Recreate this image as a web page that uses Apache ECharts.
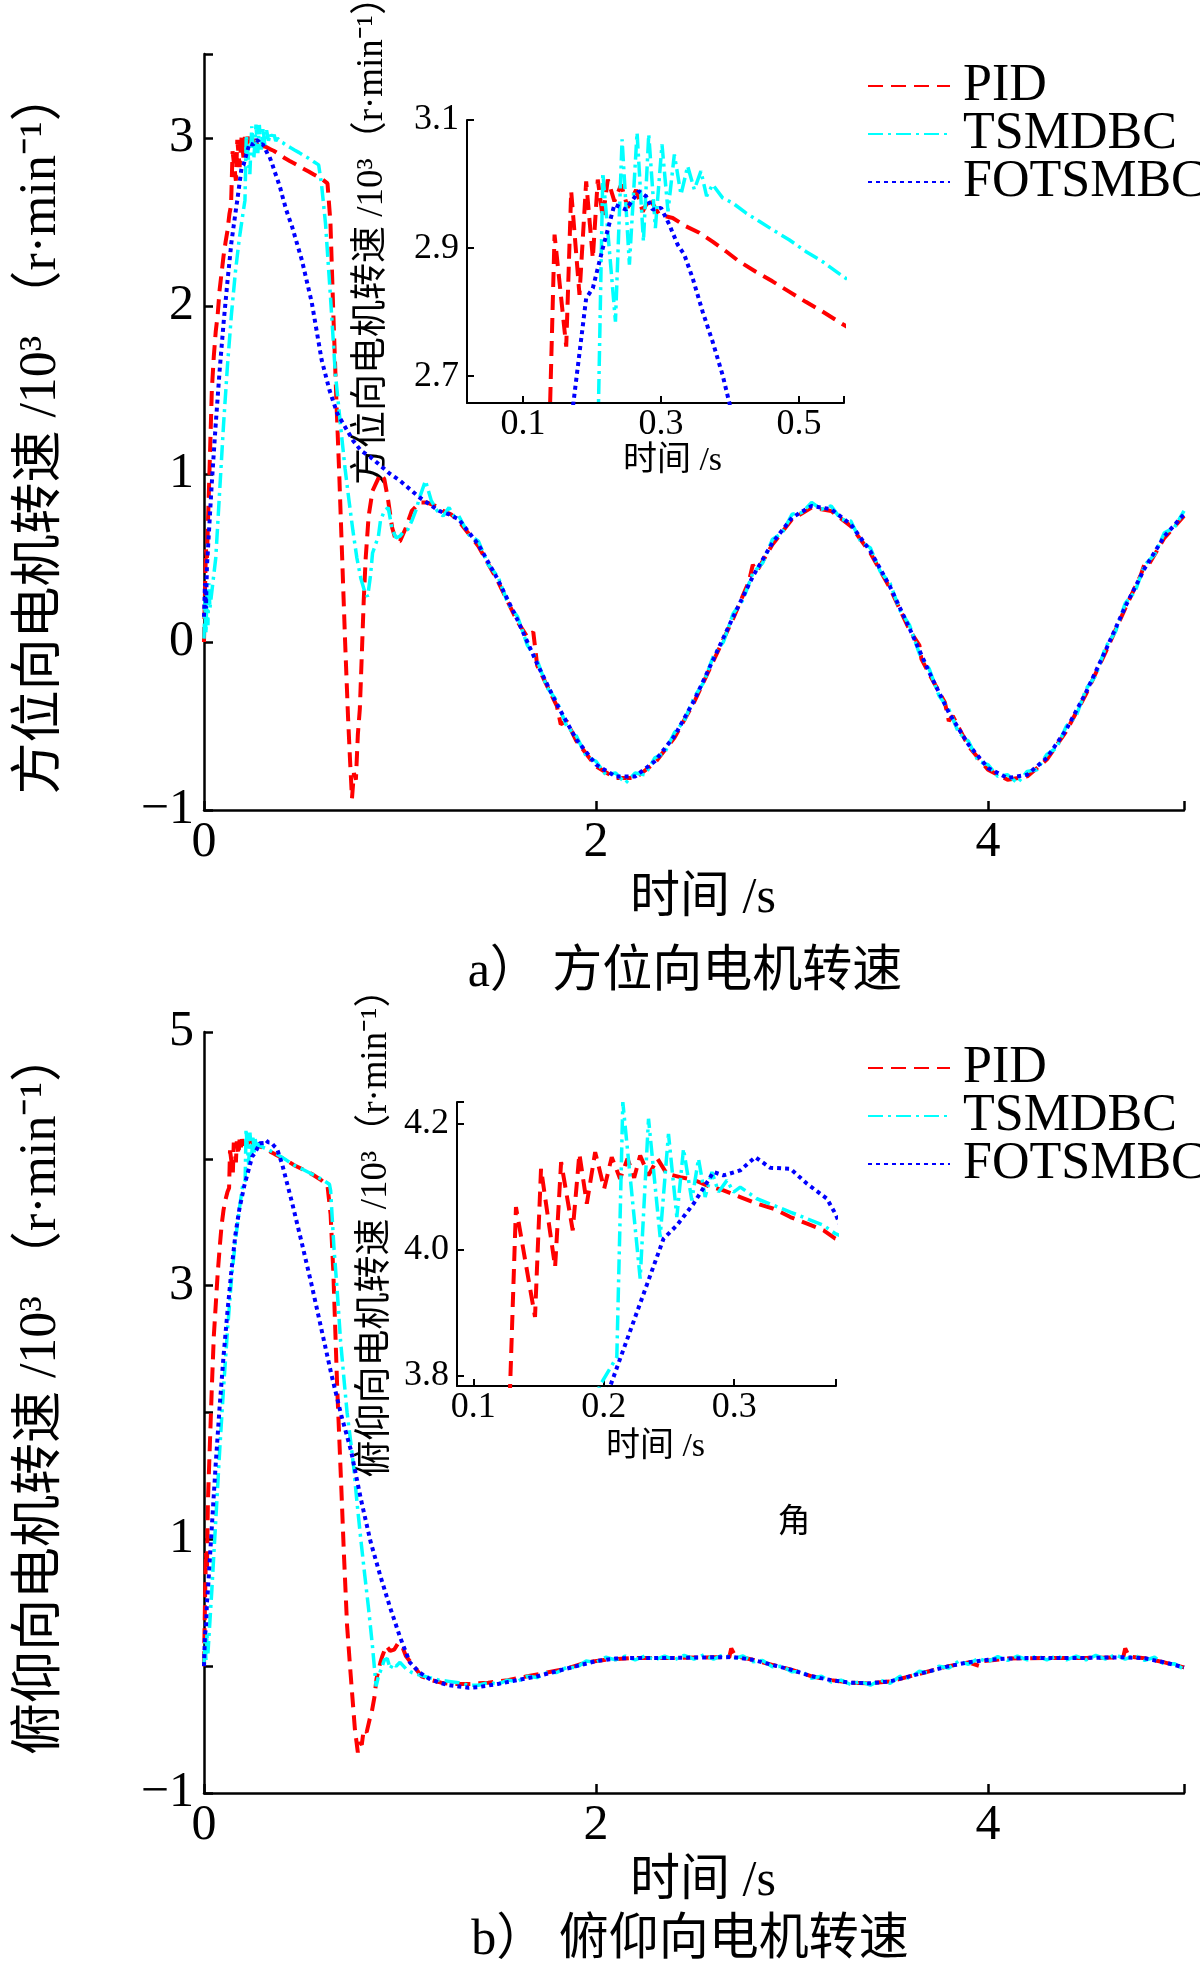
<!DOCTYPE html>
<html>
<head>
<meta charset="utf-8">
<script src="https://cdn.jsdelivr.net/npm/echarts@6/dist/echarts.min.js"></script>
<style>html,body{margin:0;padding:0;background:#fff}#c{width:1200px;height:1968px}</style>
</head>
<body>
<div id="c"></div>
<script>
// ---------- DATA (time s, speed 10^3 r/min) ----------
const seriesNames = ['PID', 'TSMDBC', 'FOTSMBC'];

// a) azimuth – transient part
const azPID = [[0,0],[0.005,0.3],[0.01,0.55],[0.015,0.5],[0.02,0.7],[0.03,1.1],[0.04,1.5],[0.05,1.7],[0.06,1.85],[0.07,1.95],[0.08,2.1],[0.09,2.2],[0.1,2.3],[0.11,2.38],[0.12,2.45],[0.13,2.55],[0.138,2.6],
[0.1458,2.921],[0.1627,2.746],[0.1699,2.989],[0.1819,2.827],[0.1916,3.004],[0.2012,2.884],[0.2084,3.007],[0.2157,2.947],[0.2229,3.007],[0.2325,2.973],[0.2422,2.999],[0.2518,2.963],[0.2639,2.991],[0.2735,2.957],[0.2831,2.978],[0.2976,2.952],[0.3169,2.947],[0.3361,2.934],[0.3554,2.924],[0.3747,2.91],[0.394,2.895],[0.4133,2.879],[0.4373,2.863],[0.4614,2.848],[0.4855,2.832],[0.5096,2.816],[0.5337,2.801],[0.5602,2.783],
[0.6,2.757],[0.63,2.73],[0.645,2.5],[0.66,1.95],[0.675,1.45],[0.69,1.0],[0.705,0.5],[0.72,0.0],[0.735,-0.45],[0.745,-0.7],[0.755,-0.93],[0.765,-0.78],[0.775,-0.82],[0.785,-0.55],[0.795,-0.4],[0.805,-0.08],[0.815,0.25],[0.825,0.5],[0.84,0.75],[0.86,0.9],[0.88,0.95],[0.9,1.0],[0.92,0.97],[0.94,0.84],[0.96,0.68],[0.98,0.6],[1.0,0.6],[1.03,0.68],[1.06,0.78],[1.1,0.83],[1.14,0.83],[1.18,0.81],[1.22,0.78],[1.26,0.76]];
const azTSM = [[0,0.02],[0.005,0.25],[0.01,0.05],[0.015,0.3],[0.02,0.1],[0.025,0.35],[0.03,0.2],[0.04,0.3],[0.05,0.4],[0.06,0.5],[0.08,0.9],[0.1,1.3],[0.12,1.65],[0.14,1.95],[0.16,2.2],[0.18,2.4],[0.2,2.56],[0.209,2.63],
[0.2157,3.0175],[0.234,2.785],[0.2436,3.0697],[0.2542,2.8739],[0.2653,3.0802],[0.2745,2.9104],[0.2822,3.0775],[0.2918,2.9313],[0.3014,3.0619],[0.3101,2.9574],[0.3193,3.0462],[0.3289,2.9836],[0.3386,3.0279],[0.3482,2.9914],[0.3578,3.0201],[0.366,2.981],[0.3747,2.9992],[0.3892,2.9783],[0.4036,2.9705],[0.4229,2.9548],[0.4422,2.9418],[0.4614,2.9287],[0.4855,2.913],[0.5096,2.8948],[0.5337,2.879],[0.5602,2.8582],
[0.585,2.84],[0.6,2.72],[0.62,2.49],[0.645,2.06],[0.67,1.6],[0.7,1.25],[0.72,1.03],[0.74,0.84],[0.76,0.66],[0.78,0.5],[0.8,0.38],[0.82,0.3],[0.835,0.27],[0.85,0.4],[0.86,0.53],[0.875,0.58],[0.89,0.63],[0.9,0.72],[0.92,0.78],[0.94,0.8],[0.96,0.67],[0.98,0.62],[1.0,0.63],[1.02,0.66],[1.04,0.67],[1.06,0.72],[1.08,0.78],[1.1,0.86],[1.13,0.96],[1.16,0.84],[1.19,0.78],[1.22,0.75],[1.25,0.8],[1.28,0.74]];
const azFOT = [[0,0.15],[0.005,0.35],[0.01,0.2],[0.015,0.45],[0.02,0.55],[0.03,0.75],[0.04,0.95],[0.06,1.3],[0.08,1.62],[0.1,1.9],[0.12,2.15],[0.14,2.38],[0.16,2.55],[0.1699,2.63],[0.1916,2.8217],[0.2012,2.8373],[0.2157,2.9],[0.2325,2.9679],[0.2494,2.96],[0.2677,2.9888],[0.2783,2.981],[0.288,2.96],[0.3,2.9627],[0.312,2.9366],[0.3241,2.9052],[0.3337,2.8896],[0.3458,2.853],[0.3602,2.8008],[0.3747,2.7538],[0.3892,2.7016],[0.3998,2.6546],
[0.42,2.57],[0.45,2.47],[0.5,2.27],[0.55,2.02],[0.6,1.68],[0.64,1.5],[0.68,1.36],[0.72,1.28],[0.76,1.2],[0.8,1.14],[0.85,1.1],[0.9,1.05],[0.95,1.0],[1.0,0.96],[1.05,0.91],[1.1,0.86],[1.15,0.82],[1.2,0.78],[1.25,0.76]];

// a) azimuth – steady part
const azTailPID = [[1.3,0.72],[1.4,0.57],[1.5,0.36],[1.6,0.12],[1.65,0.03],[1.68,0.06],[1.7,-0.14],[1.8,-0.38],[1.82,-0.49],[1.85,-0.47],[1.9,-0.59],[2.0,-0.74],[2.1,-0.81],[2.2,-0.81],[2.3,-0.72],[2.4,-0.57],[2.5,-0.36],[2.6,-0.11],[2.7,0.14],[2.78,0.36],[2.8,0.46],[2.82,0.42],[2.9,0.58],[3.0,0.73],[3.1,0.80],[3.2,0.78],[3.3,0.69],[3.4,0.53],[3.5,0.32],[3.6,0.07],[3.65,-0.02],[3.66,-0.1],[3.7,-0.19],[3.78,-0.36],[3.8,-0.47],[3.82,-0.44],[3.9,-0.62],[4.0,-0.76],[4.1,-0.82],[4.2,-0.80],[4.3,-0.70],[4.4,-0.53],[4.5,-0.31],[4.6,-0.06],[4.7,0.20],[4.78,0.4],[4.8,0.47],[4.82,0.46],[4.9,0.62],[5.0,0.75]];
const azTailTSM = [[1.3,0.75],[1.35,0.64],[1.4,0.6],[1.45,0.46],[1.5,0.39],[1.55,0.23],[1.6,0.15],[1.65,-0.02],[1.7,-0.11],[1.75,-0.27],[1.8,-0.35],[1.85,-0.5],[1.9,-0.56],[1.95,-0.68],[2.0,-0.71],[2.05,-0.79],[2.1,-0.78],[2.15,-0.84],[2.2,-0.78],[2.25,-0.79],[2.3,-0.69],[2.35,-0.66],[2.4,-0.54],[2.45,-0.47],[2.5,-0.33],[2.55,-0.24],[2.6,-0.08],[2.65,0.0],[2.7,0.17],[2.75,0.25],[2.8,0.41],[2.85,0.47],[2.9,0.61],[2.95,0.65],[3.0,0.76],[3.05,0.77],[3.1,0.83],[3.15,0.79],[3.2,0.81],[3.25,0.73],[3.3,0.72],[3.35,0.6],[3.4,0.56],[3.45,0.42],[3.5,0.35],[3.55,0.19],[3.6,0.1],[3.65,-0.07],[3.7,-0.16],[3.75,-0.32],[3.8,-0.4],[3.85,-0.54],[3.9,-0.59],[3.95,-0.71],[4.0,-0.73],[4.05,-0.8],[4.1,-0.79],[4.15,-0.84],[4.2,-0.77],[4.25,-0.76],[4.3,-0.67],[4.35,-0.63],[4.4,-0.5],[4.45,-0.44],[4.5,-0.28],[4.55,-0.2],[4.6,-0.03],[4.65,0.06],[4.7,0.23],[4.75,0.3],[4.8,0.46],[4.85,0.52],[4.9,0.65],[4.95,0.68],[5.0,0.78]];
const azTailFOT = [[1.3,0.73],[1.4,0.58],[1.5,0.37],[1.6,0.13],[1.7,-0.13],[1.8,-0.37],[1.9,-0.58],[2.0,-0.73],[2.1,-0.80],[2.2,-0.80],[2.3,-0.71],[2.4,-0.56],[2.5,-0.35],[2.6,-0.10],[2.7,0.15],[2.8,0.39],[2.9,0.59],[3.0,0.74],[3.1,0.81],[3.2,0.79],[3.3,0.70],[3.4,0.54],[3.5,0.33],[3.6,0.08],[3.7,-0.18],[3.8,-0.42],[3.9,-0.61],[4.0,-0.75],[4.1,-0.81],[4.2,-0.79],[4.3,-0.69],[4.4,-0.52],[4.5,-0.30],[4.6,-0.05],[4.7,0.21],[4.8,0.44],[4.9,0.63],[5.0,0.76]];

// b) elevation – transient part
const elPID = [[0,0],[0.005,0.5],[0.01,0.9],[0.015,0.75],[0.02,1.3],[0.03,1.75],[0.04,2.2],[0.05,2.6],[0.06,2.85],[0.07,3.1],[0.08,3.3],[0.09,3.48],[0.1,3.6],[0.11,3.68],[0.12,3.74],[0.128,3.77],
[0.1327,4.0675],[0.1473,3.8934],[0.1519,4.1282],[0.1627,3.9726],[0.1673,4.1388],[0.1762,4.0306],[0.1813,4.152],[0.187,4.0728],[0.1934,4.1546],[0.2003,4.0966],[0.2061,4.1467],[0.2125,4.1124],[0.2182,4.1441],[0.2233,4.114],[0.2279,4.1493],[0.2343,4.1177],[0.2412,4.1441],[0.2483,4.1203],[0.2586,4.115],[0.2688,4.1108],[0.279,4.1018],[0.2918,4.0939],[0.3046,4.0834],[0.3174,4.0728],[0.3302,4.0649],[0.343,4.0517],[0.3558,4.0412],[0.3685,4.0306],[0.3775,4.0174],
[0.42,3.99],[0.46,3.95],[0.5,3.92],[0.55,3.88],[0.6,3.83],[0.63,3.79],[0.646,3.56],[0.66,3.1],[0.68,2.18],[0.7,1.43],[0.714,0.88],[0.73,0.32],[0.745,0.0],[0.757,-0.24],[0.77,-0.5],[0.785,-0.68],[0.795,-0.6],[0.805,-0.62],[0.815,-0.5],[0.83,-0.52],[0.845,-0.42],[0.855,-0.37],[0.87,-0.24],[0.88,-0.1],[0.9,0.03],[0.91,0.08],[0.93,0.16],[0.95,0.12],[0.97,0.13],[0.99,0.18],[1.01,0.16],[1.03,0.08],[1.07,0.0],[1.11,-0.08],[1.16,-0.11],[1.21,-0.13],[1.26,-0.14],[1.31,-0.14]];
const elTSM = [[0,0.02],[0.005,0.2],[0.01,0.05],[0.015,0.25],[0.02,0.1],[0.03,0.35],[0.04,0.6],[0.06,1.15],[0.08,1.7],[0.1,2.2],[0.12,2.65],[0.14,3.05],[0.16,3.35],[0.18,3.6],[0.1967,3.7836],[0.21,3.8301],[0.2146,4.2338],[0.2279,3.9541],[0.2343,4.2074],[0.2432,4.0201],[0.2496,4.1836],[0.256,4.0517],[0.2611,4.1599],[0.2675,4.0781],[0.2726,4.1441],[0.2777,4.0834],[0.2829,4.123],[0.288,4.0913],[0.2944,4.1098],[0.2995,4.0913],[0.3046,4.0992],[0.3174,4.0807],[0.3302,4.0702],[0.343,4.0596],[0.3558,4.0491],[0.3685,4.0385],[0.3775,4.0253],
[0.42,3.99],[0.46,3.95],[0.5,3.92],[0.55,3.88],[0.6,3.84],[0.64,3.8],[0.646,3.75],[0.663,3.3],[0.68,2.95],[0.697,2.56],[0.715,2.25],[0.73,2.0],[0.75,1.75],[0.765,1.55],[0.78,1.3],[0.8,1.0],[0.82,0.72],[0.84,0.45],[0.86,0.15],[0.878,-0.16],[0.89,-0.08],[0.905,-0.02],[0.92,0.05],[0.935,0.06],[0.95,-0.02],[0.965,0.02],[0.98,0.0],[1.0,0.03],[1.03,-0.02],[1.06,-0.05],[1.1,-0.07],[1.15,-0.09],[1.2,-0.11],[1.25,-0.12],[1.3,-0.13]];
const elFOT = [[0,0.0],[0.005,0.25],[0.01,0.3],[0.015,0.5],[0.02,0.6],[0.04,1.1],[0.06,1.6],[0.08,2.05],[0.1,2.45],[0.12,2.8],[0.14,3.12],[0.16,3.4],[0.18,3.6],[0.2049,3.7836],[0.2458,4.0174],[0.256,4.0385],[0.2688,4.0728],[0.2841,4.123],[0.2918,4.1177],[0.3046,4.1256],[0.3161,4.1467],[0.3276,4.1298],[0.343,4.1282],[0.3558,4.1045],[0.3711,4.0807],[0.3775,4.057],
[0.4,3.95],[0.45,3.65],[0.5,3.33],[0.55,3.0],[0.6,2.65],[0.65,2.3],[0.7,1.98],[0.75,1.7],[0.8,1.32],[0.85,0.98],[0.9,0.71],[0.95,0.46],[1.0,0.23],[1.05,0.03],[1.1,-0.05],[1.15,-0.1],[1.2,-0.13],[1.25,-0.15],[1.3,-0.16]];

// b) elevation – steady part
const elTailPID = [[1.36,-0.14],[1.45,-0.13],[1.55,-0.11],[1.65,-0.08],[1.75,-0.05],[1.85,-0.02],[1.95,0.03],[2.05,0.05],[2.2,0.065],[2.4,0.065],[2.6,0.07],[2.68,0.07],[2.69,0.14],[2.71,0.08],[2.8,0.05],[2.9,0.01],[3.0,-0.03],[3.1,-0.08],[3.2,-0.11],[3.3,-0.13],[3.4,-0.135],[3.5,-0.12],[3.6,-0.08],[3.7,-0.04],[3.8,0.0],[3.9,0.03],[3.96,0.0],[3.98,0.04],[4.1,0.06],[4.3,0.065],[4.5,0.065],[4.69,0.07],[4.7,0.14],[4.72,0.075],[4.8,0.062],[4.9,0.03],[5.0,-0.01]];
const elTailTSM = [[1.35,-0.15],[1.4,-0.15],[1.45,-0.13],[1.5,-0.14],[1.55,-0.11],[1.6,-0.12],[1.65,-0.08],[1.7,-0.09],[1.75,-0.05],[1.8,-0.05],[1.85,-0.01],[1.9,-0.01],[1.95,0.04],[2.0,0.03],[2.05,0.07],[2.1,0.05],[2.15,0.08],[2.2,0.05],[2.25,0.08],[2.3,0.05],[2.35,0.08],[2.4,0.05],[2.45,0.085],[2.5,0.055],[2.55,0.09],[2.6,0.055],[2.65,0.09],[2.7,0.06],[2.75,0.08],[2.8,0.035],[2.85,0.045],[2.9,-0.005],[2.95,0.0],[3.0,-0.045],[3.05,-0.04],[3.1,-0.095],[3.15,-0.08],[3.2,-0.125],[3.25,-0.11],[3.3,-0.145],[3.35,-0.12],[3.4,-0.15],[3.45,-0.11],[3.5,-0.135],[3.55,-0.08],[3.6,-0.095],[3.65,-0.04],[3.7,-0.055],[3.75,0.0],[3.8,-0.015],[3.85,0.04],[3.9,0.015],[3.95,0.06],[4.0,0.035],[4.05,0.075],[4.1,0.045],[4.15,0.08],[4.2,0.05],[4.25,0.08],[4.3,0.05],[4.35,0.08],[4.4,0.05],[4.45,0.08],[4.5,0.05],[4.55,0.085],[4.6,0.055],[4.65,0.09],[4.7,0.055],[4.75,0.085],[4.8,0.045],[4.85,0.07],[4.9,0.015],[4.95,0.02],[5.0,-0.025]];
const elTailFOT = [[1.35,-0.17],[1.4,-0.165],[1.5,-0.14],[1.6,-0.11],[1.7,-0.08],[1.8,-0.04],[1.9,0.0],[2.0,0.04],[2.1,0.06],[2.2,0.065],[2.3,0.065],[2.4,0.065],[2.5,0.068],[2.6,0.07],[2.7,0.072],[2.8,0.05],[2.9,0.01],[3.0,-0.03],[3.1,-0.08],[3.2,-0.11],[3.3,-0.13],[3.4,-0.135],[3.5,-0.12],[3.6,-0.08],[3.7,-0.04],[3.8,0.0],[3.9,0.03],[4.0,0.05],[4.1,0.06],[4.2,0.065],[4.3,0.065],[4.4,0.065],[4.5,0.065],[4.6,0.068],[4.7,0.07],[4.8,0.062],[4.9,0.03],[5.0,-0.01]];

// axis ticks / labels
const mainXTicks = [0, 2, 4, 5], mainXLabels = [0, 2, 4];
const azYTicks = [-1, 0, 1, 2, 3, 3.5], azYLabels = [-1, 0, 1, 2, 3];
const elYTicks = [-1, 0, 1, 2, 3, 4, 5], elYLabels = [-1, 1, 3, 5];
const azInXTicks = [0.1, 0.3, 0.5, 0.565], azInXLabels = [0.1, 0.3, 0.5];
const azInYTicks = [2.7, 2.9, 3.1], azInYLabels = [2.7, 2.9, 3.1];
const elInXTicks = [0.1, 0.2, 0.3, 0.378], elInXLabels = [0.1, 0.2, 0.3];
const elInYTicks = [3.8, 4.0, 4.2, 4.234], elInYLabels = [3.8, 4.0, 4.2];

// ---------- CHART ----------
const FONT = "'Liberation Serif','Noto Sans CJK SC',serif";
const BLACK = '#000';
const fmtInt = v => (v < 0 ? '\u2212' + Math.abs(v) : String(v));
const fmt1 = v => Number(v).toFixed(1);

const styles = {
  PID: { color: '#ff0000', width: 4, type: [15, 8] },
  TSMDBC: { color: '#00ffff', width: 3.5, type: [15, 5, 3, 5] },
  FOTSMBC: { color: '#0000ff', width: 4, type: [4, 4] }
};

function axis(gridIndex, min, max, ticks, labels, fmt, o) {
  return Object.assign({
    type: 'value', gridIndex, min, max,
    axisLine: { show: true, onZero: false, lineStyle: { color: BLACK, width: o.lw } },
    axisTick: { show: true, inside: true, length: o.tl, customValues: ticks, lineStyle: { color: BLACK, width: o.lw } },
    axisLabel: { customValues: labels, formatter: fmt, fontSize: o.fs, fontFamily: FONT, color: BLACK, margin: o.margin },
    splitLine: { show: false },
    nameTextStyle: { fontSize: o.nfs, fontFamily: FONT, color: BLACK, padding: o.npad || 0 }
  }, o.extra || {});
}

const MAIN = { lw: 2.5, tl: 9, fs: 50, nfs: 50 };
const INS = { lw: 2, tl: 7, fs: 36, nfs: 34 };

const xAxis = [
  axis(0, 0, 5, mainXTicks, mainXLabels, fmtInt, Object.assign({}, MAIN, { margin: 8, npad: [0, 0, 0, 18], extra: { name: '时间 /s', nameLocation: 'middle', nameGap: 64 } })),
  axis(1, 0.019, 0.565, azInXTicks, azInXLabels, fmt1, Object.assign({}, INS, { margin: 4, npad: [0, 0, 0, 34], extra: { name: '时间 /s', nameLocation: 'middle', nameGap: 40 } })),
  axis(2, 0, 5, mainXTicks, mainXLabels, fmtInt, Object.assign({}, MAIN, { margin: 8, npad: [0, 0, 0, 18], extra: { name: '时间 /s', nameLocation: 'middle', nameGap: 64 } })),
  axis(3, 0.0875, 0.378, elInXTicks, elInXLabels, fmt1, Object.assign({}, INS, { margin: 4, npad: [0, 0, 0, 18], extra: { name: '时间 /s', nameLocation: 'middle', nameGap: 44 } }))
];
const yAxis = [
  axis(0, -1, 3.5, azYTicks, azYLabels, fmtInt, Object.assign({}, MAIN, { margin: 10, nfs: 52, npad: 0, extra: { name: '方位向电机转速 /10³ （r·min⁻¹）', nameLocation: 'middle', nameRotate: 90, nameGap: 137 } })),
  axis(1, 2.658, 3.1, azInYTicks, azInYLabels, fmt1, Object.assign({}, INS, { margin: 8, nfs: 37, npad: [0, 0, 0, 60], extra: { name: '方位向电机转速 /10³（r·min⁻¹）', nameLocation: 'middle', nameRotate: 90, nameGap: 76 } })),
  axis(2, -1, 5, elYTicks, elYLabels, fmtInt, Object.assign({}, MAIN, { margin: 10, nfs: 52, npad: [0, 0, 0, 40], extra: { name: '俯仰向电机转速 /10³ （r·min⁻¹）', nameLocation: 'middle', nameRotate: 90, nameGap: 137 } })),
  axis(3, 3.784, 4.234, elInYTicks, elInYLabels, fmt1, Object.assign({}, INS, { margin: 8, nfs: 37, npad: [0, 0, 0, 40], extra: { name: '俯仰向电机转速 /10³（r·min⁻¹）', nameLocation: 'middle', nameRotate: 90, nameGap: 62 } }))
];

const dataSets = [
  { PID: azPID.concat(azTailPID), TSMDBC: azTSM.concat(azTailTSM), FOTSMBC: azFOT.concat(azTailFOT) },
  { PID: elPID.concat(elTailPID), TSMDBC: elTSM.concat(elTailTSM), FOTSMBC: elFOT.concat(elTailFOT) }
];
const series = [];
[[0, 0], [0, 1], [1, 2], [1, 3]].forEach(([d, ax]) => {
  seriesNames.forEach((n, k) => {
    series.push({
      type: 'line', name: n, data: dataSets[d][n], xAxisIndex: ax, yAxisIndex: ax,
      symbol: 'none', showSymbol: false, clip: true, silent: true, z: 2 + k,
      color: styles[n].color, lineStyle: styles[n], itemStyle: { color: styles[n].color }
    });
  });
});

function legend(top) {
  return {
    orient: 'vertical', left: 862, top, data: seriesNames, selectedMode: false,
    itemWidth: 82, itemHeight: 14, itemGap: -4,
    itemStyle: { opacity: 0 },
    textStyle: { fontSize: 52, fontFamily: FONT, color: BLACK, padding: [0, 0, 0, 8] }
  };
}

const chart = echarts.init(document.getElementById('c'), null, { renderer: 'canvas' });
chart.setOption({
  animation: false,
  backgroundColor: '#fff',
  grid: [
    { left: 204, top: 54, width: 980, height: 756, containLabel: false, outerBoundsMode: 'none' },
    { left: 467, top: 120, width: 377, height: 283, containLabel: false, outerBoundsMode: 'none' },
    { left: 204, top: 1032, width: 980, height: 761, containLabel: false, outerBoundsMode: 'none' },
    { left: 457, top: 1102, width: 379, height: 284, containLabel: false, outerBoundsMode: 'none' }
  ],
  xAxis, yAxis, series,
  legend: [legend(55), legend(1037)],
  graphic: [
    { type: 'text', x: 685, y: 973, style: { text: 'a） 方位向电机转速', font: '50px ' + FONT, fill: BLACK, align: 'center', verticalAlign: 'middle', textAlign: 'center', textVerticalAlign: 'middle' } },
    { type: 'text', x: 690, y: 1941, style: { text: 'b） 俯仰向电机转速', font: '50px ' + FONT, fill: BLACK, align: 'center', verticalAlign: 'middle', textAlign: 'center', textVerticalAlign: 'middle' } },
    { type: 'text', x: 794, y: 1523, style: { text: '角', font: '33px ' + FONT, fill: BLACK, align: 'center', verticalAlign: 'middle', textAlign: 'center', textVerticalAlign: 'middle' } }
  ]
});
</script>
</body>
</html>
